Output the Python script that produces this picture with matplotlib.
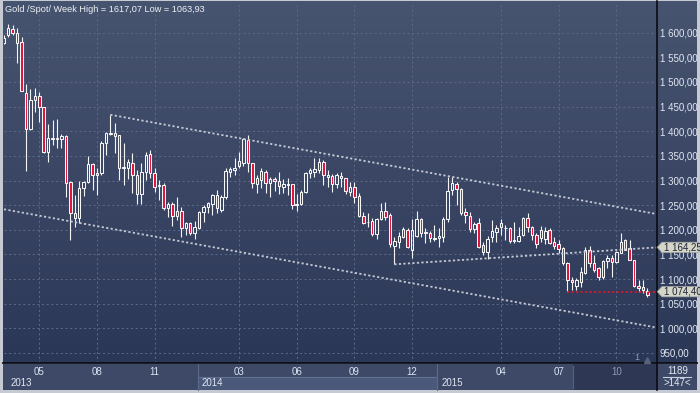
import numpy as np
import matplotlib
matplotlib.use('Agg')
import matplotlib.pyplot as plt
from matplotlib.patches import Rectangle, Polygon
from matplotlib.collections import LineCollection
from matplotlib.colors import LinearSegmentedColormap

plt.rcParams['font.family'] = ['Liberation Sans', 'DejaVu Sans']

# ---------------- data (weekly OHLC) ----------------
opens = [1580, 1595.4, 1607.5, 1598.7, 1581.8, 1478.3, 1403.9, 1462.8, 1470.9, 1448.6,
         1358.6, 1384, 1386, 1383.6, 1390.4, 1296.4, 1233.4, 1223.3, 1284.2, 1296.4,
         1333.6, 1311.2, 1314.6, 1375.5, 1395, 1395.8, 1392.4, 1325.5, 1324.7, 1334.9,
         1310.5, 1272, 1316.6, 1353.1, 1314.6, 1288.9, 1290.9, 1243.5, 1251.6, 1228,
         1238.1, 1203, 1213.1, 1194.2, 1203, 1235.4, 1247, 1252.3, 1270.6, 1240.1,
         1265.8, 1318, 1321.3, 1329.5, 1334.9, 1382.2, 1334.9, 1292.9, 1301, 1317.9,
         1294.3, 1303.1, 1299.7, 1287.5, 1290.9, 1292.9, 1250.3, 1252.3, 1277.4, 1314.6,
         1318, 1321.3, 1338.2, 1306.4, 1309.1, 1292.2, 1304.4, 1304.4, 1277.3, 1286.1,
         1268.5, 1227.9, 1216.5, 1217.8, 1190.7, 1221.2, 1238.1, 1230, 1167.7, 1175.8,
         1186, 1199.5, 1159.6, 1187.4, 1221.2, 1194.2, 1192.8, 1182, 1182.6, 1186,
         1221.2, 1280.7, 1292.9, 1282.1, 1236.7, 1228, 1201.6, 1213.1, 1169.1, 1155.6,
         1186, 1196.2, 1213.1, 1204.3, 1202.9, 1179.3, 1177.9, 1189.4, 1223.2, 1205,
         1189.4, 1182.6, 1180.6, 1199.5, 1175.8, 1172, 1163.7, 1131.9, 1098.1, 1085,
         1094.7, 1112.9, 1158.9, 1131.9, 1123, 1104.8, 1137.3, 1143.4, 1135.3, 1153.5,
         1179.2, 1162.3, 1138.6, 1085.9, 1083.2, 1076]
highs = [1595, 1617.07, 1615.7, 1609, 1590.6, 1495.9, 1485, 1487.8, 1479.7, 1449,
         1414.7, 1422.8, 1424.9, 1394.4, 1392.4, 1299.7, 1270.6, 1299, 1299, 1349.8,
         1336.3, 1326.1, 1380.9, 1399.2, 1433.5, 1416, 1393, 1375.5, 1343, 1355.2,
         1321.3, 1334.9, 1358.5, 1361.9, 1324.7, 1301, 1294.3, 1257, 1255.7, 1267.2,
         1246.9, 1216.5, 1216.5, 1218.5, 1238.1, 1249.6, 1257, 1272.6, 1280.7, 1270.6,
         1324.7, 1328.1, 1345, 1358.5, 1385.6, 1392.4, 1335, 1311.2, 1324.7, 1321.3,
         1306.4, 1306.4, 1316.6, 1302.4, 1304.4, 1293, 1272.6, 1280.7, 1318, 1324.7,
         1345, 1345, 1341.6, 1321.3, 1312.5, 1314.5, 1318, 1304.4, 1296.3, 1296.3,
         1274, 1236.7, 1233.4, 1223.2, 1223.2, 1253.7, 1255.7, 1233.4, 1184.7, 1196.2,
         1206.3, 1202.9, 1221.2, 1238.1, 1223.2, 1202.9, 1197.5, 1209.7, 1202.9, 1226.6,
         1307.8, 1307.8, 1297.6, 1284.1, 1244.9, 1236.7, 1216.5, 1223.2, 1175.8, 1187.4,
         1219.8, 1209.7, 1221.2, 1209.7, 1206.3, 1216.5, 1206.3, 1226.6, 1233.4, 1207.7,
         1194.2, 1207.7, 1205, 1202.9, 1186, 1179.2, 1165.7, 1135.3, 1104.8, 1101.4,
         1123.8, 1165.7, 1167, 1148.8, 1123.6, 1138.6, 1148.8, 1148.8, 1157.6, 1192.8,
         1180.6, 1179.2, 1139, 1098.1, 1098.1, 1081]
lows = [1578, 1592, 1595.4, 1539, 1482, 1320, 1402, 1439.8, 1419.5, 1355,
        1338.3, 1372, 1365.4, 1365.4, 1267.3, 1179.3, 1206.4, 1213, 1268.6, 1295.7,
        1280.8, 1270.6, 1311, 1351.8, 1392, 1355, 1301, 1290.9, 1302.4, 1275.3,
        1252.3, 1252.3, 1301, 1304.4, 1277.4, 1260.4, 1240.1, 1226.6, 1207.7, 1219.8,
        1186, 1189.4, 1189.4, 1180.6, 1200.9, 1216.5, 1233.4, 1230, 1233.4, 1236,
        1262, 1306.4, 1311.2, 1324.7, 1329.5, 1318, 1284.1, 1274, 1284.1, 1274,
        1267.2, 1279.4, 1272.6, 1274, 1270.6, 1241.5, 1238.8, 1250.3, 1275.3, 1304.4,
        1308, 1315, 1290.9, 1287.5, 1277.3, 1284.1, 1287.5, 1272.6, 1268.5, 1253.7,
        1226.6, 1211.7, 1205, 1187.4, 1180.6, 1219.8, 1219.8, 1165.7, 1129.9, 1163.7,
        1182.6, 1162.3, 1142, 1184.7, 1184.7, 1173.8, 1175.8, 1177.9, 1165.7, 1175.8,
        1216.5, 1270.6, 1250.3, 1230, 1214.4, 1196.2, 1192.8, 1162.3, 1148.8, 1140,
        1175.8, 1175.8, 1189.4, 1179.3, 1172.5, 1173.8, 1175, 1187.4, 1196.2, 1179.3,
        1162.3, 1175.8, 1171.1, 1171.1, 1160, 1152.2, 1128, 1073.5, 1077.8, 1077.8,
        1084.5, 1110.2, 1125.1, 1115, 1098, 1099.4, 1121.7, 1104.8, 1131.9, 1152.2,
        1158, 1138, 1084, 1074.4, 1071, 1063.93]
closes = [1590, 1609, 1598.7, 1579.8, 1482.4, 1403.9, 1462.8, 1470.9, 1448.6, 1358.6,
          1385.7, 1387, 1384, 1390.4, 1295.7, 1233.4, 1223.3, 1284.2, 1296.4, 1333.6,
          1311.2, 1316, 1375.5, 1397.1, 1396.5, 1391, 1326.1, 1327, 1337.6, 1310.5,
          1272, 1316.6, 1351.8, 1314.6, 1287.5, 1290.9, 1243.5, 1251.6, 1228, 1238.1,
          1203, 1213.1, 1194.2, 1205, 1235.4, 1247, 1253.7, 1270.6, 1243.5, 1265.8,
          1320, 1322.7, 1326, 1339.6, 1383.6, 1334.9, 1294.3, 1304.4, 1319.3, 1294.3,
          1303.1, 1299, 1288.9, 1292.9, 1292.9, 1250.3, 1252.3, 1277.4, 1314.6, 1321.3,
          1322.7, 1338.2, 1311.2, 1311.2, 1292.2, 1311.2, 1309.1, 1279.4, 1286.1, 1267.2,
          1227.9, 1214.4, 1215, 1190.7, 1221.2, 1238.1, 1226.6, 1171.1, 1177.9, 1188,
          1201.6, 1165.7, 1199.5, 1221.2, 1192.8, 1196.2, 1182.6, 1183.9, 1187.4, 1221.2,
          1279.4, 1294.3, 1282.1, 1233.4, 1230, 1200.9, 1211.7, 1164.4, 1155.6, 1180.6,
          1197.5, 1202.9, 1206.3, 1202.9, 1177.9, 1177.2, 1187.4, 1223.2, 1205, 1189.4,
          1171.1, 1199.5, 1198.2, 1173.8, 1167, 1160, 1131.9, 1098.1, 1094.7, 1098,
          1115, 1158.9, 1131.9, 1118.3, 1104.8, 1136.6, 1143.4, 1135.3, 1155.6, 1175.8,
          1158.9, 1138.6, 1085.9, 1081.1, 1077.8, 1068.5]

month_ticks = [8, 21, 34, 53, 66, 79, 92, 112, 125, 138]
month_labels = ['05', '08', '11', '03', '06', '09', '12', '04', '07', '10']
year_start_bars = [0, 44, 98]
year_labels = ['2013', '2014', '2015']
price_ticks = list(range(950, 1601, 50))

X_END = 147.1
upper_line_x, upper_line_y = [24, X_END], [1433.5, 1232.0]
lower_line_x, lower_line_y = [0.05, X_END], [1241.6, 1001.5]
mid_line_x, mid_line_y = [88, X_END], [1129.9, 1164.25]
last_line_x, last_line_y = [127, X_END], [1074.40, 1074.40]
tag_values = [1164.25, 1074.40]
tag_texts = ['1 164,25', '1 074,40']
title = 'Gold /Spot/ Week High = 1617,07 Low = 1063,93'
counter_top, counter_bottom = '1189', '>147<'

# ---------------- figure ----------------
W, H = 700, 393
fig = plt.figure(figsize=(W / 100, H / 100), dpi=100)
fig.patch.set_facecolor('#c6cad2')

bg = fig.add_axes([0, 0, 1, 1])
bg.set_xlim(0, W)
bg.set_ylim(H, 0)
bg.axis('off')

cmap = LinearSegmentedColormap.from_list('bgc', ['#47546f', '#3a4664', '#2b3756'])
grad = np.linspace(0, 1, 256).reshape(-1, 1)
bg.imshow(grad, extent=[3, 697, 363, 1], aspect='auto', cmap=cmap,
          origin='upper', zorder=0, interpolation='bilinear')

# plot axes
PL, PR, PT, PB = 4, 656.7, 3, 363
ax = fig.add_axes([PL / W, 1 - PB / H, (PR - PL) / W, (PB - PT) / H])
ax.set_facecolor('none')
ax.set_xlim(0.05, X_END)
ax.set_ylim(929.6, 1660.3)
for s in ax.spines.values():
    s.set_visible(False)

ax.set_yticks(price_ticks)
ax.set_yticklabels([f'{v:,}'.replace(',', ' ') + ',00' for v in price_ticks])
ax.yaxis.tick_right()
ax.tick_params(axis='y', length=0, pad=2.3, labelsize=7, labelcolor='#e2e8f3')
ax.set_xticks(month_ticks)
ax.set_xticklabels(month_labels)
ax.tick_params(axis='x', length=0, pad=2.6, labelsize=7, labelcolor='#dce5f4')
ax.get_xticklabels()[-1].set_color('#8e9ab3')
ax.grid(True, linestyle=(0, (2, 2.5)), color='#5a6785', linewidth=0.75)
ax.set_axisbelow(True)

# candles
n = len(opens)
idx = np.arange(n)
o, h, l, c = map(np.asarray, (opens, highs, lows, closes))
body_lo = np.minimum(o, c)
body_hi = np.maximum(o, c)
segs = [[(i, l[i]), (i, body_lo[i])] for i in idx] + \
       [[(i, body_hi[i]), (i, h[i])] for i in idx]
ax.add_collection(LineCollection(segs, colors='#f4f4f4', linewidths=0.8, zorder=3))
bw = 0.56
for i in idx:
    hgt = max(body_hi[i] - body_lo[i], 1.2)
    up = c[i] >= o[i]
    ax.add_patch(Rectangle((i - bw / 2, body_lo[i]), bw, hgt,
                           facecolor='none' if up else '#e0123c',
                           edgecolor='#f6f6f6', linewidth=0.75, zorder=4))

# trend lines
dot = (0, (1.2, 1.3))
for xs, ys in [(upper_line_x, upper_line_y), (lower_line_x, lower_line_y),
               (mid_line_x, mid_line_y)]:
    ax.plot(xs, ys, color='#c4c9d3', linewidth=1.3, linestyle=dot, zorder=5)
ax.plot(last_line_x, last_line_y, color='#d41a2c', linewidth=1.3, linestyle=dot, zorder=5)

# overlay axes for elements that sit on top of the tick labels
ov = fig.add_axes([0, 0, 1, 1])
ov.set_xlim(0, W)
ov.set_ylim(H, 0)
ov.axis('off')
ov.patch.set_visible(False)

def px_y(p):
    return ov.transData.inverted().transform(ax.transData.transform((0, p)))[1]

def px_x(i):
    return ov.transData.inverted().transform(ax.transData.transform((i, 0)))[0]

# bottom band
bg.add_patch(Rectangle((3, 363.5), 694, 26, facecolor='#3d4966', edgecolor='none', zorder=1))
seps = [px_x(b - 0.3) for b in year_start_bars]
seps[0] = PL
seps.append(PR)
bg.add_patch(Rectangle((seps[1], 377), seps[2] - seps[1], 12.5, facecolor='#4a5879',
                       edgecolor='none', zorder=1.5))
bg.plot([seps[1], seps[2]], [377, 377], color='#62708f', lw=0.8, zorder=1.6)
for s in seps[1:3]:
    bg.plot([s, s], [363.5, 389.5], color='#5d6a88', lw=0.8, zorder=1.6)
for k, lab in enumerate(year_labels):
    bg.text(max(seps[k] + 4, 11), 383.5, lab, fontsize=7, color='#dfe6f3',
            va='center', ha='left', zorder=3)
# scroll region (dark)
bg.add_patch(Rectangle((573, 363.5), PR - 573, 26, facecolor='#2e3854',
                       edgecolor='none', zorder=1.7))
bg.plot([573, 573], [366, 388], color='#56627e', lw=0.8, zorder=1.8)

# frame lines
ov.plot([3, 697], [363, 363], color='#0a0c12', lw=1.3, zorder=6)
ov.plot([PR, PR], [1, 389.5], color='#0a0c12', lw=1.2, zorder=6)

# right-bottom counter cell
ov.text(677.5, 370.5, counter_top, fontsize=7, color='#e2e8f3', ha='center', va='center', zorder=7)
ov.plot([663, 691], [377, 377], color='#c8cfdc', lw=0.8, zorder=7)
ov.text(677.5, 383.5, counter_bottom, fontsize=7, color='#e2e8f3', ha='center', va='center', zorder=7)

# price tags (drawn over the axis labels, as in the reference)
for val, txt in zip(tag_values, tag_texts):
    yc = px_y(val)
    poly = Polygon([(PR + 0.5, yc), (662, yc - 5.2), (699, yc - 5.2), (699, yc + 5.2), (662, yc + 5.2)],
                   closed=True, facecolor='#d6d6c8', edgecolor='#9da0a0', linewidth=0.5, zorder=8)
    ov.add_patch(poly)
    ov.text(663.5, yc, txt, fontsize=7, color='#1b2234', va='center', ha='left', zorder=9)

# title & small marks
ov.text(5, 9, title, fontsize=6.6, color='#eef1f6', va='center', ha='left', zorder=7)
ov.text(637, 357.5, '1', fontsize=6.5, color='#8f98ad', va='center', ha='center', zorder=7)
ov.plot([647], [359.5], marker='^', markersize=5, color='#57627b', zorder=7, linestyle='none')

fig.savefig('out.png', dpi=100, facecolor=fig.get_facecolor())
